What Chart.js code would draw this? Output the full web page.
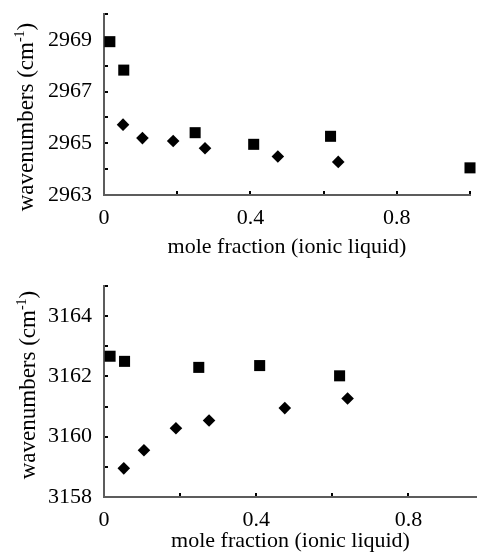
<!DOCTYPE html>
<html>
<head>
<meta charset="utf-8">
<script src="https://cdn.jsdelivr.net/npm/chart.js@4.4.1/dist/chart.umd.min.js"></script>
<style>
  html, body { margin: 0; padding: 0; background: #ffffff; }
  #wrap { position: relative; width: 477px; height: 554px; }
  #c1 { position: absolute; left: 0; top: 0; }
  #c2 { position: absolute; left: 0; top: 270px; }
</style>
</head>
<body>
<div id="wrap">
  <canvas id="c1" width="477" height="270"></canvas>
  <canvas id="c2" width="477" height="284"></canvas>
</div>
<script>
// ---- data ----
const xSquares = [0.016, 0.054, 0.249, 0.409, 0.619, 1.0];
const xDiamonds = [0.052, 0.105, 0.189, 0.276, 0.475, 0.640];
const topSquares = [2968.93, 2967.83, 2965.41, 2964.96, 2965.27, 2964.05];
const topDiamonds = [2965.72, 2965.20, 2965.09, 2964.81, 2964.49, 2964.28];
const bottomSquares = [3162.67, 3162.50, 3162.30, 3162.36, 3162.02];
const bottomDiamonds = [3158.95, 3159.55, 3160.28, 3160.54, 3160.95, 3161.27];
const xTickLabels = ['0', '0.4', '0.8'];
const topYLabels = [2963, 2965, 2967, 2969];
const bottomYLabels = [3158, 3160, 3162, 3164];
const xTitle = 'mole fraction (ionic liquid)';
const yTitleMain = 'wavenumbers (cm';
const yTitleSup = '-1';
const yTitleEnd = ')';

const FONT = "'Liberation Serif', 'Times New Roman', serif";
const AXIS_GRAY = '#5c5c5c';

function pts(xs, ys) {
  return ys.map((y, i) => ({ x: xs[i], y: y }));
}

// draws the rotated y-axis title with a real superscript
const yTitlePlugin = {
  id: 'yTitleSup',
  afterDraw(chart, args, o) {
    const ctx = chart.ctx;
    ctx.save();
    ctx.fillStyle = '#000000';
    ctx.textBaseline = 'alphabetic';
    ctx.textAlign = 'left';
    const big = `${o.size}px ${FONT}`;
    const small = `${Math.round(o.size * 0.62)}px ${FONT}`;
    ctx.font = big;
    const w1 = ctx.measureText(yTitleMain).width;
    const w3 = ctx.measureText(yTitleEnd).width;
    ctx.font = small;
    const w2 = ctx.measureText(yTitleSup).width;
    const total = w1 + w2 + w3;
    ctx.translate(o.cx, o.cy);
    ctx.rotate(-Math.PI / 2);
    const base = o.size * 0.34;
    let x = -total / 2;
    ctx.font = big;
    ctx.fillText(yTitleMain, x, base);
    x += w1;
    ctx.font = small;
    ctx.fillText(yTitleSup, x, base - o.size * 0.38);
    x += w2;
    ctx.font = big;
    ctx.fillText(yTitleEnd, x, base);
    ctx.restore();
  }
};

function makeChart(canvasId, opts) {
  const xFmt = (v) => {
    const s = Number(v) === 0 ? '0' : Number(v).toFixed(1);
    return xTickLabels.includes(s) ? s : '';
  };
  const yFmt = (v) => {
    const r = Math.round(v);
    return (Math.abs(v - r) < 1e-6 && opts.yLabels.includes(r)) ? String(r) : '';
  };
  return new Chart(document.getElementById(canvasId), {
    type: 'scatter',
    plugins: [yTitlePlugin],
    data: {
      datasets: [
        {
          label: 'squares',
          data: pts(xSquares, opts.sq),
          pointStyle: 'rect',
          pointRadius: 7.8,
          pointHoverRadius: 7.8,
          backgroundColor: '#000000',
          borderColor: '#000000',
          borderWidth: 0,
          clip: false
        },
        {
          label: 'diamonds',
          data: pts(xDiamonds, opts.di),
          pointStyle: 'rectRot',
          pointRadius: 6.3,
          pointHoverRadius: 6.3,
          backgroundColor: '#000000',
          borderColor: '#000000',
          borderWidth: 0,
          clip: false
        }
      ]
    },
    options: {
      responsive: false,
      animation: false,
      devicePixelRatio: 1,
      events: [],
      layout: {
        autoPadding: false,
        padding: { left: 0, top: opts.padTop, right: opts.padRight, bottom: 0 }
      },
      plugins: {
        legend: { display: false },
        tooltip: { enabled: false },
        yTitleSup: { cx: opts.yTitleX, cy: opts.yTitleY, size: 23 }
      },
      scales: {
        x: {
          type: 'linear',
          min: 0,
          max: opts.xMax,
          afterFit: (s) => { s.height = opts.xAxisH; s.paddingLeft = 0; s.paddingRight = 0; },
          ticks: {
            stepSize: 0.2,
            includeBounds: false,
            autoSkip: false,
            maxRotation: 0,
            color: '#000000',
            font: { family: FONT, size: 22 },
            padding: opts.xTickPad,
            callback: xFmt
          },
          grid: {
            display: true,
            drawOnChartArea: false,
            drawTicks: true,
            tickLength: -4,
            color: '#000000',
            lineWidth: 2
          },
          border: { display: true, color: AXIS_GRAY, width: 2 },
          title: {
            display: true,
            text: xTitle,
            color: '#000000',
            font: { family: FONT, size: 22 },
            padding: { top: 0, bottom: opts.xTitlePadB }
          }
        },
        y: {
          type: 'linear',
          min: opts.yMin,
          max: opts.yMax,
          afterFit: (s) => { s.width = 104; s.paddingTop = 0; s.paddingBottom = 0; },
          ticks: {
            stepSize: 1,
            autoSkip: false,
            color: '#000000',
            font: { family: FONT, size: 22 },
            padding: 16,
            callback: yFmt
          },
          grid: {
            display: true,
            drawOnChartArea: false,
            drawTicks: true,
            tickLength: -4,
            color: '#000000',
            lineWidth: 2
          },
          border: { display: true, color: AXIS_GRAY, width: 2 },
          title: { display: false }
        }
      }
    }
  });
}

makeChart('c1', {
  sq: topSquares, di: topDiamonds, yLabels: topYLabels,
  yMin: 2963, yMax: 2970, xMax: 1.0,
  padTop: 14, padRight: 7, xAxisH: 75, xTickPad: 14, xTitlePadB: 10,
  yTitleX: 25, yTitleY: 117
});

makeChart('c2', {
  sq: bottomSquares, di: bottomDiamonds, yLabels: bottomYLabels,
  yMin: 3158, yMax: 3165, xMax: 0.98,
  padTop: 16, padRight: 0, xAxisH: 57, xTickPad: 14, xTitlePadB: 0,
  yTitleX: 27, yTitleY: 115
});
</script>
</body>
</html>
